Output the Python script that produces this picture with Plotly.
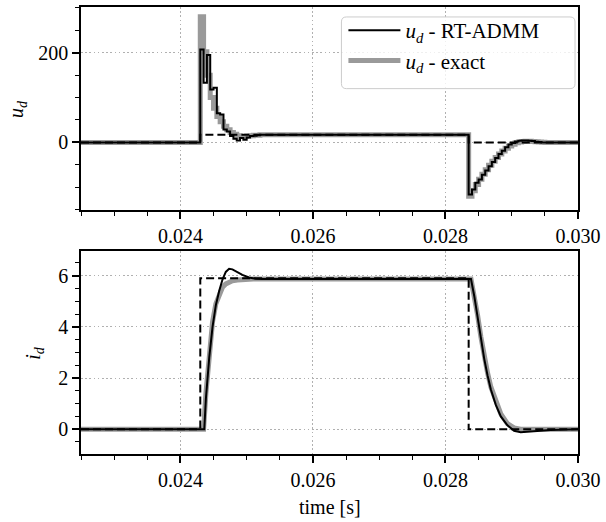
import plotly.graph_objects as go

# ---------------- data ----------------
# top panel: voltage u_d (step signals, zero-order hold)
t_u_rt = [0.0225, 0.0243, 0.02435, 0.0244, 0.02445, 0.0245, 0.02455, 0.0246, 0.02465,
          0.0247, 0.02475, 0.0248, 0.02485, 0.0249, 0.02495, 0.025, 0.02505, 0.0251,
          0.02515, 0.0252, 0.02835, 0.0284, 0.02845, 0.0285, 0.02855, 0.0286, 0.02865,
          0.0287, 0.02875, 0.0288, 0.02885, 0.0289, 0.02895, 0.029, 0.02905, 0.0291,
          0.02915, 0.0292, 0.02925, 0.0293, 0.02935, 0.0294, 0.02945, 0.030]
u_rt = [0, 207, 133, 195, 118, 122, 65, 62, 29,
        24, 14, 8, 4, 10, 6, 11, 14, 15,
        16, 17, -116, -105, -90, -83, -72, -63, -53,
        -44, -35, -26, -18.5, -11, -5, -1.5, 2, 3.7,
        4.4, 4.4, 3.7, 3, 1.5, 0.7, 0, 0]

t_u_ex = [0.0225, 0.0243, 0.02435, 0.0244, 0.02445, 0.0245, 0.02455, 0.0246, 0.02465,
          0.0247, 0.02475, 0.0248, 0.02485, 0.0249, 0.02495, 0.025, 0.02505, 0.0251,
          0.0252, 0.02835, 0.0284, 0.02845, 0.0285, 0.02855, 0.0286, 0.02865,
          0.0287, 0.02875, 0.0288, 0.02885, 0.0289, 0.02895, 0.029, 0.02905, 0.0291,
          0.02915, 0.0292, 0.02925, 0.0293, 0.02935, 0.0294, 0.02945, 0.0295, 0.030]
u_ex = [0, 280, 202, 150, 100, 76, 58, 46, 36,
        28, 22, 18, 15, 13, 13, 14, 15, 16,
        17, -120, -108, -94, -82, -71, -61, -51,
        -42, -34, -26, -19, -13, -8, -4, -1, 1,
        2, 2.5, 2.5, 2, 1.5, 1, 0.5, 0, 0]

t_ref = [0.0225, 0.0243, 0.02835, 0.030]
u_ref = [0, 17, 0, 0]

# bottom panel: current i_d
t_i_rt = [0.0225, 0.02436, 0.024385, 0.024435, 0.024485, 0.024535, 0.024585, 0.024635,
          0.024685, 0.024735, 0.024785, 0.02486, 0.024935, 0.025035, 0.025135, 0.025235,
          0.028385, 0.028435, 0.028485, 0.028535, 0.028585, 0.028635, 0.028685, 0.02876,
          0.028835, 0.028935, 0.029035, 0.029135, 0.029235, 0.029385, 0.029585, 0.029885,
          0.030]
i_rt = [0, 0, 1.2, 2.8, 4.0, 4.85, 5.4, 5.85,
        6.15, 6.27, 6.25, 6.13, 6.03, 5.93, 5.88, 5.87,
        5.87, 5.2, 4.35, 3.5, 2.75, 2.1, 1.55, 0.95,
        0.5, 0.15, -0.06, -0.12, -0.11, -0.07, -0.03, 0,
        0]

t_i_ex = [0.0225, 0.02435, 0.024385, 0.024435, 0.024485, 0.024535, 0.024585, 0.024635,
          0.024685, 0.024735, 0.024785, 0.02486, 0.02496, 0.0251,
          0.028385, 0.028435, 0.028485, 0.028535, 0.028585, 0.028635, 0.028685, 0.02876,
          0.028835, 0.028935, 0.029035, 0.029135, 0.030]
i_ex = [0, 0, 1.4, 3.0, 4.2, 4.9, 5.3, 5.55,
        5.68, 5.76, 5.8, 5.83, 5.85, 5.87,
        5.87, 5.25, 4.45, 3.6, 2.85, 2.2, 1.65, 1.05,
        0.6, 0.22, 0.05, 0.0, 0]

i_ref = [0, 5.9, 0, 0]

x_ticks = [0.024, 0.026, 0.028, 0.030]

# ---------------- figure ----------------
BLACK = "black"
GRAY = "#9a9a9a"
FONT = "Liberation Serif, DejaVu Serif, serif"
fig = go.Figure()

# top panel
fig.add_trace(go.Scatter(x=t_u_ex, y=u_ex, mode="lines", line_shape="hv",
                         line=dict(color=GRAY, width=5),
                         name="<i>u</i><sub><i>d</i></sub> - exact", legendrank=2,
                         xaxis="x", yaxis="y"))
fig.add_trace(go.Scatter(x=t_u_rt, y=u_rt, mode="lines", line_shape="hv",
                         line=dict(color=BLACK, width=2),
                         name="<i>u</i><sub><i>d</i></sub> - RT-ADMM", legendrank=1,
                         xaxis="x", yaxis="y"))
fig.add_trace(go.Scatter(x=t_ref, y=u_ref, mode="lines", line_shape="hv",
                         line=dict(color=BLACK, width=2, dash="8px,4px"),
                         showlegend=False, xaxis="x", yaxis="y"))

# bottom panel
fig.add_trace(go.Scatter(x=t_i_ex, y=i_ex, mode="lines",
                         line=dict(color=GRAY, width=5), showlegend=False,
                         xaxis="x2", yaxis="y2"))
fig.add_trace(go.Scatter(x=t_ref, y=i_ref, mode="lines", line_shape="hv",
                         line=dict(color=BLACK, width=2, dash="8px,4px"),
                         showlegend=False, xaxis="x2", yaxis="y2"))
fig.add_trace(go.Scatter(x=t_i_rt, y=i_rt, mode="lines",
                         line=dict(color=BLACK, width=2), showlegend=False,
                         xaxis="x2", yaxis="y2"))

common = dict(showline=True, linecolor="black", linewidth=1.6, mirror=True,
              ticks="outside", ticklen=7, tickwidth=1.6, tickcolor="black",
              showgrid=True, gridcolor="#b0b0b0", gridwidth=1.4, griddash="1.6px,2.6px",
              zeroline=False, tickfont=dict(family=FONT, size=20, color="black"))

xcommon = dict(common, range=[0.0225, 0.030], tickvals=x_ticks, tickformat=".3f",
               minor=dict(ticks="outside", ticklen=4, tickwidth=1.2, tickcolor="black",
                          dtick=0.0005, tick0=0.0225, showgrid=False))

top_dom = [0.5457, 1.0]
bot_dom = [0.0, 0.4543]

fig.update_layout(
    width=606, height=522,
    margin=dict(l=81, r=25, t=5, b=68),
    plot_bgcolor="white", paper_bgcolor="white",
    font=dict(family=FONT, size=20, color="black"),
    xaxis=dict(xcommon, anchor="y"),
    yaxis=dict(common, domain=top_dom, anchor="x", range=[-151, 302], dtick=200, tick0=0,
               minor=dict(ticks="outside", ticklen=4, tickwidth=1.2, tickcolor="black",
                          dtick=50, tick0=0, showgrid=False)),
    xaxis2=dict(xcommon, anchor="y2"),
    yaxis2=dict(common, domain=bot_dom, anchor="x2", range=[-0.97, 6.97], dtick=2, tick0=0,
                minor=dict(ticks="outside", ticklen=4, tickwidth=1.2, tickcolor="black",
                           dtick=0.5, tick0=0, showgrid=False)),
    legend=dict(x=0.528, y=0.993, xanchor="left", yanchor="top",
                bgcolor="rgba(0,0,0,0)", borderwidth=0, itemwidth=52,
                font=dict(size=21, family=FONT)),
    showlegend=True,
)

# rounded legend frame (matplotlib style)
x0, x1 = (343 - 81) / 500, (578 - 81) / 500
y1, y0 = (454 - 15) / 449, (454 - 87) / 449
rx, ry = 5 / 500, 5 / 449
path = (f"M{x0+rx},{y1} L{x1-rx},{y1} Q{x1},{y1} {x1},{y1-ry} L{x1},{y0+ry} "
        f"Q{x1},{y0} {x1-rx},{y0} L{x0+rx},{y0} Q{x0},{y0} {x0},{y0+ry} "
        f"L{x0},{y1-ry} Q{x0},{y1} {x0+rx},{y1} Z")
fig.add_shape(type="path", path=path, xref="paper", yref="paper", layer="above",
              fillcolor="rgba(255,255,255,0.8)", line=dict(color="#cccccc", width=1))

fig.add_annotation(text="<i>u</i><sub><i>d</i></sub>", textangle=-90,
                   xref="paper", yref="paper", x=-0.128, y=(454 - 107) / 449,
                   xanchor="center", yanchor="middle", showarrow=False,
                   font=dict(size=20, family=FONT))
fig.add_annotation(text="<i>i</i><sub><i>d</i></sub>", textangle=-90,
                   xref="paper", yref="paper", x=-0.094, y=(454 - 352) / 449,
                   xanchor="center", yanchor="middle", showarrow=False,
                   font=dict(size=20, family=FONT))
fig.add_annotation(text="time [s]", xref="paper", yref="paper",
                   x=0.5, y=(454 - 507) / 449, xanchor="center", yanchor="middle",
                   showarrow=False, font=dict(size=20, family=FONT))

fig.write_html("out.html")
